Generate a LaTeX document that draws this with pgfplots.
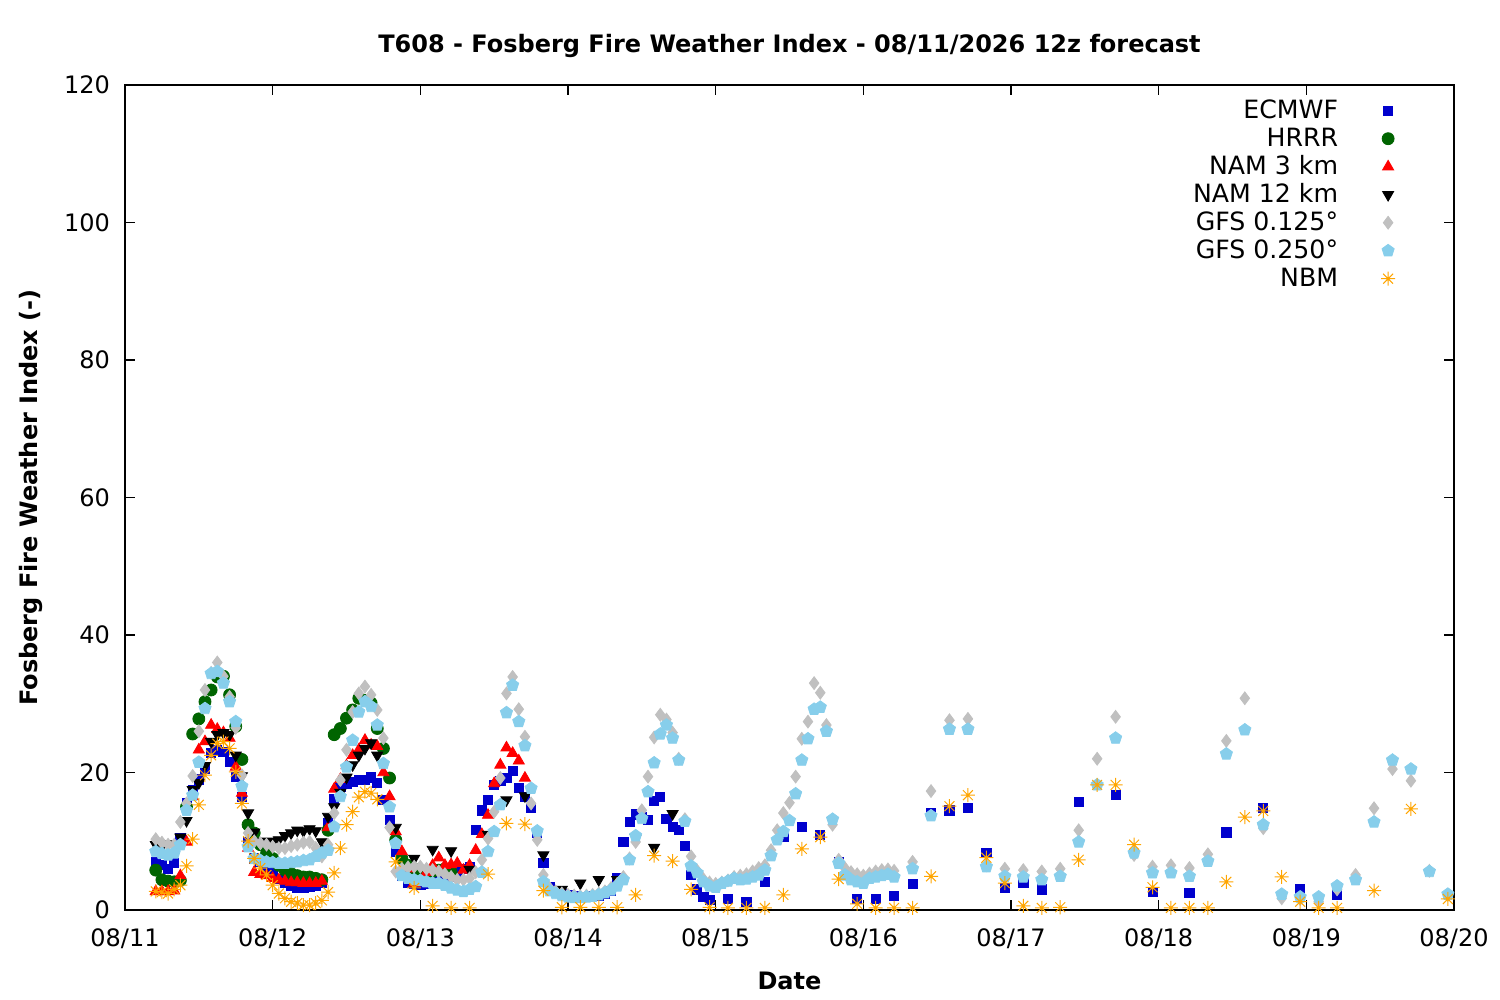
\documentclass[border=0pt]{standalone}
\usepackage{fontspec}
\setmainfont{DejaVu Sans}
\usepackage{pgfplots}
\pgfplotsset{compat=1.18}
\definecolor{cECM}{RGB}{0,0,205}
\definecolor{cHRRR}{RGB}{0,100,0}
\definecolor{cNAMa}{RGB}{255,0,0}
\definecolor{cNAMb}{RGB}{0,0,0}
\definecolor{cGFSa}{RGB}{192,192,192}
\definecolor{cGFSb}{RGB}{135,206,235}
\definecolor{cNBM}{RGB}{255,165,0}
\pgfdeclareplotmark{gpstar}{%
 \pgfpathmoveto{\pgfqpoint{-\pgfplotmarksize}{0pt}}\pgfpathlineto{\pgfqpoint{\pgfplotmarksize}{0pt}}%
 \pgfpathmoveto{\pgfqpoint{0pt}{-\pgfplotmarksize}}\pgfpathlineto{\pgfqpoint{0pt}{\pgfplotmarksize}}%
 \pgfpathmoveto{\pgfqpoint{-0.7071\pgfplotmarksize}{-0.7071\pgfplotmarksize}}\pgfpathlineto{\pgfqpoint{0.7071\pgfplotmarksize}{0.7071\pgfplotmarksize}}%
 \pgfpathmoveto{\pgfqpoint{-0.7071\pgfplotmarksize}{0.7071\pgfplotmarksize}}\pgfpathlineto{\pgfqpoint{0.7071\pgfplotmarksize}{-0.7071\pgfplotmarksize}}%
 \pgfusepathqstroke}
\newcommand{\ff}{\fontsize{12bp}{14bp}\selectfont}
\newcommand{\fl}{\fontsize{12.6bp}{14bp}\selectfont}
\begin{document}
\begin{tikzpicture}
\useasboundingbox (0,0) rectangle (750bp,500bp);
\begin{axis}[
  at={(62.5bp,45bp)}, anchor=south west,
  width=664.5bp, height=412.5bp, scale only axis,
  xmin=0, xmax=216, ymin=0, ymax=120,
  xtick={0,24,...,216},
  xticklabels={08/11,08/12,08/13,08/14,08/15,08/16,08/17,08/18,08/19,08/20},
  ytick={0,20,...,120},
  xtick pos=both, ytick pos=both,
  xticklabel pos=lower, yticklabel pos=left,
  tick align=inside, major tick length=5bp,
  axis line style={line width=0.6bp},
  every tick/.style={black, line width=0.6bp},
  /pgf/number format/assume math mode=true,
  tick label style={font=\ff},
  xticklabel style={anchor=base, yshift=-18.3bp},
  yticklabel style={anchor=east, xshift=-4bp},
  title={\ff\bfseries T608 - Fosberg Fire Weather Index - 08/11/2026 12z forecast},
  title style={at={(axis description cs:0.5,1.025)}, anchor=base, inner sep=0pt},
  xlabel={\ff\bfseries Date},
  xlabel style={at={(axis description cs:0.5,-0.0958)}, anchor=base, inner sep=0pt},
  ylabel={\ff\bfseries Fosberg Fire Weather Index (-)},
  ylabel style={at={(axis description cs:-0.0655,0.5)}, anchor=base, inner sep=0pt},
  legend plot pos=right,
  legend cell align=right,
  legend style={draw=none, fill=none, font=\fl, at={(axis description cs:0.9605,0.9911)}, anchor=north east,
    row sep=0pt, nodes={inner sep=2bp, text height=9bp, text depth=1bp},
    /tikz/every odd column/.append style={column sep=19.5bp}},
  every axis plot/.append style={only marks},
]
\addplot[cECM, mark=square*, mark size=2.3bp] table {
5 7.0
6 6.6
7 6.0
8 6.8
9 10.5
10 15.5
11 17.5
12 19.0
13 20.5
14 22.8
15 23.3
16 23.0
17 21.6
18 19.4
19 16.5
20 9.9
21 7.5
22 7.0
23 6.0
24 5.5
25 4.5
26 4.0
27 3.5
28 3.3
29 3.3
30 3.4
31 3.5
32 4.0
33 12.6
34 16.2
35 17.9
36 18.4
37 18.6
38 18.9
39 18.9
40 19.3
41 18.5
42 16.0
43 13.1
44 8.5
45 5.0
46 4.0
47 3.8
48 3.7
49 3.8
50 4.0
51 4.2
52 4.5
53 4.8
54 5.5
55 6.0
56 6.3
57 11.7
58 14.5
59 16.0
60 18.2
61 18.8
62 19.2
63 20.2
64 17.8
65 16.5
66 14.8
67 11.2
68 6.9
69 3.4
70 2.8
71 2.4
72 2.2
73 2.0
74 1.9
75 1.9
76 2.0
77 2.1
78 2.3
79 2.8
80 4.6
81 9.9
82 12.8
83 13.9
84 13.5
85 13.1
86 15.9
87 16.5
88 13.2
89 12.1
90 11.6
91 9.3
92 5.1
93 3.0
94 1.9
95 1.5
98 1.6
101 1.2
104 4.1
107 10.6
110 12.1
113 10.9
116 7.0
119 1.6
122 1.6
125 2.0
128 3.8
131 14.1
134 14.5
137 14.8
140 8.3
143 3.2
146 4.0
149 3.0
155 15.7
161 16.7
167 2.6
173 2.5
179 11.3
185 14.8
191 3.0
197 2.2
};
\addlegendentry{ECMWF}
\addplot[cHRRR, mark=*, mark size=3bp] table {
5 5.8
6 4.4
7 4.2
8 4.1
9 4.3
10 15.0
11 25.6
12 27.8
13 30.3
14 32.0
15 33.9
16 34.0
17 31.3
18 26.7
19 21.9
20 12.4
21 11.2
22 9.5
23 8.2
24 7.5
25 6.5
26 5.8
27 5.3
28 5.0
29 4.8
30 4.8
31 4.6
32 4.4
33 11.6
34 25.5
35 26.4
36 27.9
37 29.1
38 30.8
39 30.5
40 30.1
41 26.4
42 23.5
43 19.2
44 10.2
45 7.5
46 6.5
47 6.0
48 5.8
49 5.5
50 5.6
51 5.8
52 6.0
53 5.5
};
\addlegendentry{HRRR}
\addplot[cNAMa, mark=triangle*, mark size=3.2bp] table {
5 2.7
6 2.7
7 2.7
8 2.8
9 5.0
10 9.9
11 16.5
12 23.3
13 24.5
14 26.9
15 26.3
16 25.8
17 25.0
18 20.8
19 17.0
20 9.0
21 5.5
22 5.2
23 5.0
24 4.6
25 4.4
26 4.2
27 4.0
28 4.0
29 3.9
30 3.9
31 3.9
32 4.2
33 12.0
34 17.6
35 19.0
36 21.0
37 22.5
38 23.3
39 24.7
40 24.0
41 23.8
42 20.0
43 16.5
44 11.4
45 8.5
46 6.0
47 3.9
48 4.0
49 5.5
50 6.5
51 7.6
52 6.5
53 6.6
54 6.8
55 5.8
56 6.5
57 8.7
58 11.0
59 13.8
60 18.4
61 21.1
62 23.6
63 22.8
64 21.7
65 19.2
};
\addlegendentry{NAM 3 km}
\addplot[cNAMb, mark=triangle*, mark size=3.2bp, mark options={rotate=180}] table {
5 9.5
6 9.2
7 9.6
8 9.4
9 10.6
10 13.0
11 17.5
12 18.5
13 21.0
14 24.5
15 25.5
16 25.8
17 25.5
18 22.5
19 19.5
20 14.1
21 11.3
22 10.0
23 9.5
24 10.0
25 10.2
26 10.8
27 11.2
28 11.6
29 11.5
30 11.8
31 11.5
32 9.9
33 13.6
34 15.0
35 17.1
36 19.3
37 21.1
38 22.5
39 23.5
40 24.3
41 22.5
44 12.0
47 7.5
50 8.8
53 8.6
56 5.9
59 11.0
62 16.0
65 16.6
68 8.0
71 3.0
74 3.9
77 4.4
80 4.4
83 10.5
86 9.1
89 14.0
};
\addlegendentry{NAM 12 km}
\addplot[cGFSa, mark=diamond*, mark size=3.2bp] table {
5 10.3
6 9.8
7 9.5
8 9.5
9 12.8
10 15.5
11 19.5
12 26.0
13 32.0
14 34.5
15 36.0
16 34.0
17 31.0
18 26.5
19 19.6
20 11.2
21 10.0
22 9.7
23 9.5
24 9.2
25 9.0
26 9.0
27 9.3
28 9.5
29 9.8
30 9.9
31 9.0
32 7.8
33 9.5
34 14.1
35 18.9
36 23.3
37 28.8
38 31.5
39 32.5
40 31.3
41 29.1
42 25.0
43 12.0
44 5.6
45 6.0
46 6.2
47 6.3
48 6.3
49 6.0
50 5.8
51 5.6
52 5.2
53 4.8
54 4.4
55 4.4
56 4.6
57 5.5
58 7.3
59 10.4
60 14.3
61 19.2
62 31.5
63 33.9
64 29.2
65 25.2
66 15.5
67 10.2
68 5.1
69 3.2
70 2.7
71 2.4
72 2.2
73 2.1
74 2.0
75 2.1
76 2.2
77 2.4
78 2.7
79 3.2
80 3.8
81 4.8
82 7.5
83 9.9
84 14.5
85 19.4
86 25.1
87 28.4
88 27.7
89 25.8
90 22.0
91 13.2
92 7.8
93 5.7
94 4.5
95 4.0
96 3.8
97 4.0
98 4.3
99 4.8
100 5.0
101 5.2
102 5.6
103 6.1
104 6.5
105 8.7
106 11.6
107 14.1
108 15.6
109 19.4
110 24.9
111 27.4
112 33.0
113 31.6
114 26.9
115 12.4
116 7.3
117 6.1
118 5.5
119 5.2
120 5.0
121 5.3
122 5.6
123 5.8
124 5.9
125 5.7
128 7.0
131 17.3
134 27.6
137 27.8
140 6.5
143 6.0
146 5.8
149 5.6
152 6.0
155 11.6
158 22.0
161 28.1
164 8.0
167 6.3
170 6.5
173 6.1
176 8.1
179 24.6
182 30.8
185 11.9
188 1.7
191 1.6
194 1.2
197 3.0
200 5.1
203 14.8
206 20.5
209 18.8
212 5.7
215 2.2
};
\addlegendentry{GFS 0.125°}
\addplot[cGFSb, mark=pentagon*, mark size=3.2bp] table {
5 8.5
6 8.2
7 8.0
8 8.3
9 9.5
10 14.5
11 16.7
12 21.5
13 29.3
14 34.4
15 34.7
16 33.0
17 30.3
18 27.4
19 18.0
20 9.2
21 7.5
22 7.2
23 7.0
24 6.9
25 6.8
26 6.8
27 6.9
28 7.0
29 7.2
30 7.3
31 7.8
32 8.3
33 8.7
34 12.1
35 16.5
36 20.8
37 24.7
38 28.8
39 30.3
40 29.6
41 26.9
42 21.3
43 15.0
44 9.7
45 5.0
46 4.6
47 4.4
48 4.3
49 4.1
50 3.9
51 3.9
52 3.6
53 3.2
54 2.9
55 2.7
56 3.0
57 3.4
58 5.5
59 8.5
60 11.4
61 15.3
62 28.7
63 32.7
64 27.4
65 23.9
66 17.7
67 11.5
68 4.1
69 2.8
70 2.4
71 2.1
72 1.9
73 1.8
74 1.8
75 1.9
76 2.0
77 2.2
78 2.5
79 2.9
80 3.5
81 4.4
82 7.3
83 10.8
84 13.3
85 17.2
86 21.4
87 25.6
88 26.9
89 25.0
90 21.8
91 12.9
92 6.4
93 5.4
94 4.1
95 3.5
96 3.3
97 3.9
98 4.2
99 4.6
100 4.4
101 4.5
102 4.8
103 5.1
104 5.8
105 7.9
106 10.2
107 11.4
108 13.0
109 16.9
110 21.8
111 24.9
112 29.2
113 29.5
114 26.0
115 13.2
116 6.8
117 5.1
118 4.4
119 4.1
120 3.9
121 4.6
122 4.8
123 5.0
124 5.2
125 4.8
128 6.0
131 13.7
134 26.3
137 26.3
140 6.3
143 4.9
146 4.8
149 4.4
152 4.9
155 9.9
158 18.2
161 25.0
164 8.3
167 5.4
170 5.4
173 4.9
176 7.1
179 22.7
182 26.2
185 12.4
188 2.3
191 1.9
194 1.9
197 3.5
200 4.4
203 12.8
206 21.8
209 20.5
212 5.6
215 2.3
};
\addlegendentry{GFS 0.250°}
\addplot[cNBM, mark=gpstar, mark size=3.5bp, line width=0.5bp] table {
5 2.7
6 2.6
7 2.4
8 3.0
9 3.6
10 6.4
11 10.3
12 15.3
13 19.6
14 22.5
15 24.2
16 24.5
17 23.5
18 20.1
19 15.5
20 10.0
21 7.5
22 6.1
23 5.1
24 3.6
25 2.4
26 1.7
27 1.2
28 1.0
29 0.7
30 0.7
31 1.0
32 1.4
33 2.6
34 5.4
35 9.0
36 12.4
37 14.3
38 16.4
39 17.2
40 17.0
41 16.1
44 7.0
47 3.2
50 0.6
53 0.3
56 0.3
59 5.2
62 12.6
65 12.5
68 2.8
71 0.4
74 0.4
77 0.4
80 0.4
83 2.2
86 7.9
89 7.1
92 3.0
95 0.4
98 0.3
101 0.3
104 0.3
107 2.2
110 8.9
113 10.6
116 4.5
119 0.9
122 0.3
125 0.3
128 0.3
131 4.9
134 15.1
137 16.7
140 7.6
143 3.9
146 0.6
149 0.3
152 0.4
155 7.3
158 18.2
161 18.2
164 9.5
167 3.3
170 0.3
173 0.3
176 0.3
179 4.1
182 13.5
185 14.4
188 4.8
191 1.2
194 0.3
197 0.3
203 2.8
209 14.7
215 1.6
};
\addlegendentry{NBM}
\end{axis}
\end{tikzpicture}
\end{document}
